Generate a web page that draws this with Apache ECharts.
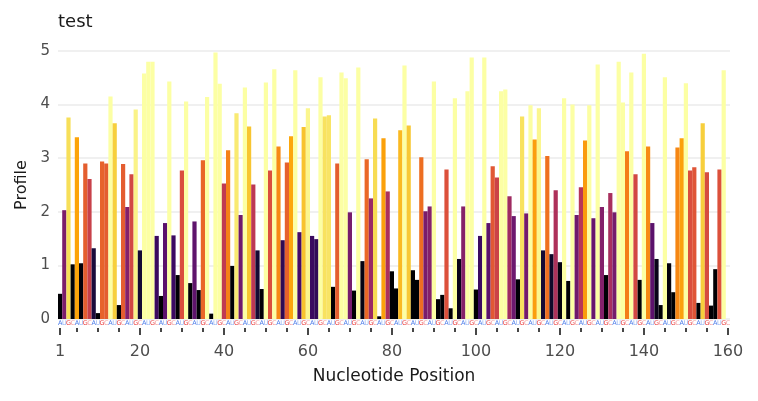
<!DOCTYPE html>
<html>
<head>
<meta charset="utf-8">
<script src="https://cdn.jsdelivr.net/npm/echarts@6/dist/echarts.min.js"></script>
<style>
  html, body { margin: 0; padding: 0; background: #fff; }
  #chart { width: 758px; height: 401px; }
</style>
</head>
<body>
<div id="chart"></div>
<script>
const SEQUENCE = (
  "AUGCAUGCAUGCAUGCAUGCAUGCAUGCAUGCAUGCAUGC" +
  "AUGCAUGCAUGCAUGCAUGCAUGCAUGCAUGCAUGCAUGC" +
  "AUGCAUGCAUGCAUGCAUGCAUGCAUGCAUGCAUGCAUGC" +
  "AUGCAUGCAUGCAUGCAUGCAUGCAUGCAUGCAUGCAUGC"
).split("");

const POSITIONS = SEQUENCE.map((_, i) => String(i + 1));

// profile value per nucleotide
const PROFILE = [
  0.47, 2.03, 3.76, 1.02, 3.39, 1.04, 2.90, 2.61, 1.32, 0.11,
  2.94, 2.90, 4.15, 3.65, 0.26, 2.89, 2.09, 2.70, 3.91, 1.28,
  4.58, 4.80, 4.80, 1.55, 0.43, 1.79, 4.43, 1.56, 0.82, 2.77,
  4.06, 0.67, 1.82, 0.54, 2.96, 4.14, 0.10, 4.97, 4.39, 2.53,
  3.15, 0.99, 3.84, 1.94, 4.32, 3.59, 2.51, 1.28, 0.56, 4.41,
  2.77, 4.66, 3.22, 1.47, 2.92, 3.41, 4.64, 1.62, 3.58, 3.93,
  1.55, 1.49, 4.51, 3.78, 3.80, 0.60, 2.90, 4.60, 4.49, 1.99,
  0.53, 4.69, 1.08, 2.98, 2.25, 3.74, 0.05, 3.37, 2.38, 0.89,
  0.57, 3.52, 4.73, 3.61, 0.91, 0.73, 3.02, 2.01, 2.10, 4.43,
  0.37, 0.45, 2.79, 0.20, 4.12, 1.12, 2.10, 4.25, 4.88, 0.55,
  1.55, 4.88, 1.79, 2.85, 2.64, 4.25, 4.28, 2.29, 1.92, 0.74,
  3.78, 1.97, 3.99, 3.35, 3.93, 1.28, 3.04, 1.21, 2.40, 1.06,
  4.12, 0.71, 4.00, 1.94, 2.46, 3.33, 3.99, 1.88, 4.75, 2.09,
  0.82, 2.35, 1.99, 4.80, 4.04, 3.13, 4.60, 2.70, 0.73, 4.95,
  3.22, 1.79, 1.12, 0.26, 4.51, 1.04, 0.50, 3.20, 3.37, 4.40,
  2.77, 2.83, 0.30, 3.65, 2.74, 0.25, 0.93, 2.79, 4.64, 0,
];

const MAJOR_TICKS = [1, 20, 40, 60, 80, 100, 120, 140, 160];
const MINOR_TICKS = [
  5, 10, 15, 25, 30, 35, 45, 50, 55, 65, 70, 75, 85, 90, 95,
  105, 110, 115, 125, 130, 135, 145, 150, 155,
];

const INFERNO = [
  "#000004", "#160b39", "#420a68", "#6a176e", "#932667", "#bc3754",
  "#dd513a", "#f37819", "#fca50a", "#f6d746", "#fcffa4",
];
const COLOR_MIN = 1;
const COLOR_MAX = 4;

const NUC_COLORS = {
  A: "#4a7bea",
  U: "#8fb0f4",
  G: "#ec4646",
  C: "#f4a2a2",
};

const hexToRgb = (hex) => [1, 3, 5].map((k) => parseInt(hex.slice(k, k + 2), 16));

const infernoColor = (value) => {
  let t = (value - COLOR_MIN) / (COLOR_MAX - COLOR_MIN);
  t = Math.max(0, Math.min(1, t));
  const pos = t * (INFERNO.length - 1);
  const lo = Math.floor(pos);
  const hi = Math.min(lo + 1, INFERNO.length - 1);
  const f = pos - lo;
  const a = hexToRgb(INFERNO[lo]);
  const b = hexToRgb(INFERNO[hi]);
  const rgb = a.map((c, k) => Math.round(c + (b[k] - c) * f));
  return `rgb(${rgb.join(",")})`;
};

const isMajor = (index) => MAJOR_TICKS.includes(index + 1);
const isMinor = (index) => MINOR_TICKS.includes(index + 1);

const rich = {};
Object.keys(NUC_COLORS).forEach((key) => {
  rich[key] = { color: NUC_COLORS[key], fontSize: 6.5, fontFamily: "DejaVu Sans" };
});

const chart = echarts.init(document.getElementById("chart"));

chart.setOption({
  animation: false,
  backgroundColor: "#ffffff",
  title: {
    text: "test",
    left: 53,
    top: 8,
    textStyle: {
      fontFamily: "DejaVu Sans",
      fontSize: 18,
      fontWeight: "normal",
      color: "#1a1a1a",
    },
  },
  grid: {
    left: 58,
    right: 28,
    top: 51,
    bottom: 82,
  },
  xAxis: [
    {
      type: "category",
      data: POSITIONS,
      position: "bottom",
      axisLine: { show: false },
      axisTick: { show: false },
      axisLabel: {
        interval: 0,
        margin: 1,
        formatter: (value, index) => `{${SEQUENCE[index]}|${SEQUENCE[index]}}`,
        rich,
      },
    },
    {
      type: "category",
      data: POSITIONS,
      position: "bottom",
      offset: 9,
      axisLine: { show: false },
      axisTick: {
        show: true,
        alignWithLabel: true,
        length: 7,
        interval: (index) => isMajor(index),
        lineStyle: { color: "#333333", width: 1.8 },
      },
      axisLabel: {
        interval: (index) => isMajor(index),
        margin: 16,
        fontFamily: "DejaVu Sans",
        fontSize: 16,
        color: "#4d4d4d",
      },
      name: "Nucleotide Position",
      nameLocation: "middle",
      nameGap: 40,
      nameTextStyle: {
        fontFamily: "DejaVu Sans",
        fontSize: 17,
        color: "#1a1a1a",
      },
    },
    {
      type: "category",
      data: POSITIONS,
      position: "bottom",
      offset: 9,
      axisLine: { show: false },
      axisTick: {
        show: true,
        alignWithLabel: true,
        length: 4,
        interval: (index) => isMinor(index),
        lineStyle: { color: "#333333", width: 1.8 },
      },
      axisLabel: { show: false },
    },
  ],
  yAxis: {
    type: "value",
    min: 0,
    max: 5,
    interval: 1,
    axisLine: { show: false },
    axisTick: { show: false },
    axisLabel: {
      margin: 8,
      fontFamily: "DejaVu Sans",
      fontSize: 15,
      color: "#4d4d4d",
    },
    splitLine: { lineStyle: { color: "#ebebeb", width: 1.6 } },
    name: "Profile",
    nameLocation: "middle",
    nameGap: 27,
    nameTextStyle: {
      fontFamily: "DejaVu Sans",
      fontSize: 16,
      color: "#1a1a1a",
    },
  },
  series: [
    {
      type: "bar",
      xAxisIndex: 0,
      data: PROFILE,
      barCategoryGap: "0%",
      itemStyle: {
        color: (params) => infernoColor(params.value),
      },
    },
  ],
});
</script>
</body>
</html>
